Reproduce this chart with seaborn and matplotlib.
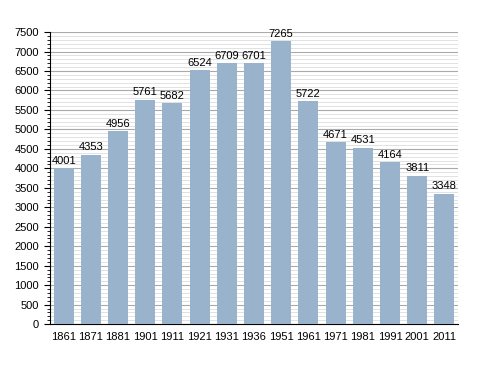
import matplotlib
matplotlib.use("Agg")
import matplotlib.pyplot as plt
import seaborn as sns
import pandas as pd
from matplotlib.ticker import MultipleLocator

years = ["1861", "1871", "1881", "1901", "1911", "1921", "1931", "1936",
         "1951", "1961", "1971", "1981", "1991", "2001", "2011"]
population = [4001, 4353, 4956, 5761, 5682, 6524, 6709, 6701,
              7265, 5722, 4671, 4531, 4164, 3811, 3348]

df = pd.DataFrame({"Year": years, "Population": population})

sns.set_style("white")
plt.rcParams['font.family'] = ['Liberation Sans', 'DejaVu Sans']

fig = plt.figure(figsize=(4.88, 3.73), dpi=100)
ax = fig.add_axes([0.1025, 0.131, 0.836, 0.783])

sns.barplot(x="Year", y="Population", data=df, color="#9ab3cc", saturation=1,
            width=0.74, linewidth=0, edgecolor="none", ax=ax, zorder=3)

ax.set_ylim(0, 7500)
ax.set_xlim(-0.5, len(years) - 0.5)
ax.yaxis.set_major_locator(MultipleLocator(500))
ax.yaxis.set_minor_locator(MultipleLocator(100))
ax.grid(axis="y", which="major", color="#aaaaaa", linewidth=0.8, zorder=0)
ax.grid(axis="y", which="minor", color="#dddddd", linewidth=0.6, zorder=0)

for side in ["top", "right"]:
    ax.spines[side].set_visible(False)
ax.spines["left"].set_color("black")
ax.spines["bottom"].set_color("black")
ax.tick_params(axis="y", which="major", left=True, length=4, width=0.8,
               labelsize=8, pad=4, colors="black")
ax.tick_params(axis="y", which="minor", left=True, length=2, width=0.6, colors="black")
ax.tick_params(axis="x", bottom=False, labelsize=8, pad=2, colors="black")

for i, v in enumerate(population):
    ax.text(i, v + 60, str(v), ha="center", va="bottom", fontsize=8,
            color="black", zorder=4)

ax.set_xlabel("")
ax.set_ylabel("")

fig.savefig("out.png", dpi=100)
